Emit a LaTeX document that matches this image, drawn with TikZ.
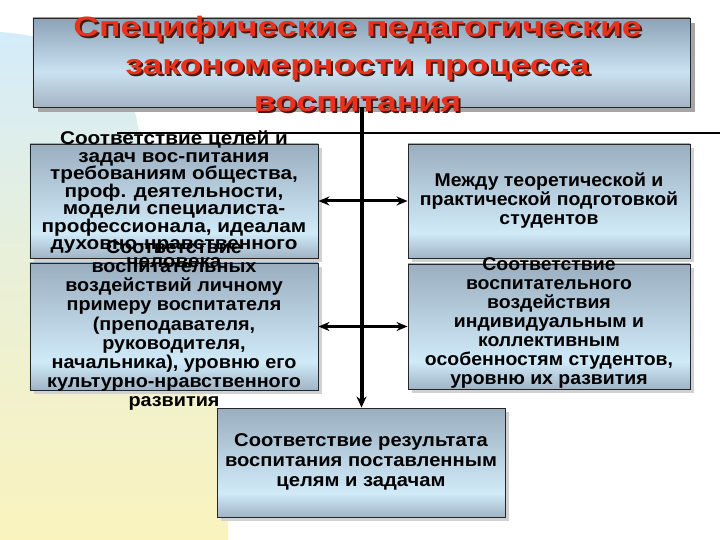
\documentclass[tikz,border=0pt]{standalone}
\usepackage{fontspec}
\setmainfont{Liberation Sans}
\newfontfamily\ftitle[FakeStretch=1.27]{Liberation Sans}
\newfontfamily\fwideA[FakeStretch=1.12]{Liberation Sans}
\newfontfamily\fwideB[FakeStretch=1.07]{Liberation Sans}
\newfontfamily\fwideC[FakeStretch=1.05]{Liberation Sans}
\newfontfamily\fwideD[FakeStretch=1.09]{Liberation Sans}
\usetikzlibrary{arrows.meta,shadows}
\definecolor{boxtop}{HTML}{9AAEC0}
\definecolor{boxmid}{HTML}{D0EAF8}
\definecolor{boxbot}{HTML}{A0B4C6}
\definecolor{ttop}{HTML}{8CA2B6}
\definecolor{tmid}{HTML}{C9E2F2}
\definecolor{tbot}{HTML}{A4B4C2}
\definecolor{titlered}{HTML}{E8321E}
\definecolor{titleshadow}{HTML}{4A1A10}
\definecolor{bgblue}{HTML}{D4ECFA}
\definecolor{bgyellow}{HTML}{FAF3BE}
\pgfdeclareverticalshading{boxshade}{100bp}{color(0bp)=(boxbot); color(25bp)=(boxbot); color(36bp)=(boxmid); color(75bp)=(boxtop); color(100bp)=(boxtop)}
\pgfdeclareverticalshading{titleshade}{100bp}{color(0bp)=(tbot); color(25bp)=(tbot); color(45bp)=(tmid); color(75bp)=(ttop); color(100bp)=(ttop)}
\begin{document}
\begin{tikzpicture}[x=1bp,y=-1bp,
  box/.style={draw=black!85, line width=0.9bp, shading=boxshade, inner sep=0pt,
    drop shadow={shadow xshift=4bp, shadow yshift=-4bp, fill=black!18, opacity=1}},
  titlebox/.style={draw=black!85, line width=0.9bp, shading=titleshade, inner sep=0pt,
    drop shadow={shadow xshift=5bp, shadow yshift=-5bp, fill=black!35, opacity=1}},
  txt/.style={align=center, inner sep=0pt, font=\fwideA\bfseries\fontsize{18.5bp}{17.5bp}\selectfont},
  txtb/.style={align=center, inner sep=0pt, font=\fwideB\bfseries\fontsize{18.5bp}{19.1bp}\selectfont},
  txtc/.style={align=center, inner sep=0pt, font=\fwideC\bfseries\fontsize{18.5bp}{19bp}\selectfont},
  txtd/.style={align=center, inner sep=0pt, font=\fwideD\bfseries\fontsize{18.5bp}{20bp}\selectfont},
  ttl/.style={align=center, inner sep=0pt, font=\ftitle\bfseries\fontsize{28bp}{37.5bp}\selectfont},
  arr/.style={line width=3bp, -{Stealth[length=11bp,width=9bp]}},
  spine/.style={line width=4bp, -{Stealth[length=11bp,width=10bp]}}]
\useasboundingbox (0,0) rectangle (720,540);
\fill[white] (0,0) rectangle (720,540);
% background swoosh
\shade[top color=bgblue, bottom color=bgyellow, middle color=bgblue!40!bgyellow]
  (0,32) .. controls (60,36) and (115,60) .. (135,112)
  .. controls (150,170) and (140,260) .. (160,330)
  .. controls (185,390) and (225,400) .. (228,430)
  -- (228,540) -- (0,540) -- cycle;
% boxes
\node[titlebox, minimum width=657bp, minimum height=89bp] (title) at (361.5,62.5) {};
\node[box, minimum width=288bp, minimum height=114bp] (l1) at (174,201) {};
\node[box, minimum width=288bp, minimum height=127bp] (l2) at (174,326.5) {};
\node[box, minimum width=282bp, minimum height=114bp] (r1) at (549,201) {};
\node[box, minimum width=282bp, minimum height=125bp] (r2) at (549,326.5) {};
\node[box, minimum width=288bp, minimum height=109bp] (bot) at (361,462.5) {};
% thin line
\coordinate (tl1) at (117,133);
\coordinate (tl2) at (720,133);
\draw[line width=1.2bp] (tl1) -- (tl2);
% connectors
\coordinate (s1) at (title.south |- l1.east);
\coordinate (s2) at (title.south |- l2.east);
\draw[spine] (title.south) -- (title.south |- bot.north);
\draw[arr] (s1) -- (l1.east);
\draw[arr] (s1) -- (r1.west);
\draw[arr] (s2) -- (l2.east);
\draw[arr] (s2) -- (r2.west);
% title text
\node[ttl, text=titleshadow] at (359.5,66) {Специфические педагогические\\закономерности процесса\\воспитания};
\node[ttl, text=titlered] (ttext) at (357.5,64) {Специфические педагогические\\закономерности процесса\\воспитания};
% box texts
\node[txt] (t1) at (174,199) {Соответствие целей и\\задач вос-питания\\требованиям общества,\\проф. деятельности,\\модели специалиста-\\профессионала, идеалам\\духовно-нравственного\\человека};
\node[txtb] (t2) at (174,325.5) {Соответствие\\воспитательных\\воздействий личному\\примеру воспитателя\\(преподавателя,\\руководителя,\\начальника), уровню его\\культурно-нравственного\\развития};
\node[txtc] (t3) at (549,201) {Между теоретической и\\практической подготовкой\\студентов};
\node[txtc] (t4) at (549,322.5) {Соответствие\\воспитательного\\воздействия\\индивидуальным и\\коллективным\\особенностям студентов,\\уровню их развития};
\node[txtd] (t5) at (361,462) {Соответствие результата\\воспитания поставленным\\целям и задачам};
\end{tikzpicture}
\end{document}
